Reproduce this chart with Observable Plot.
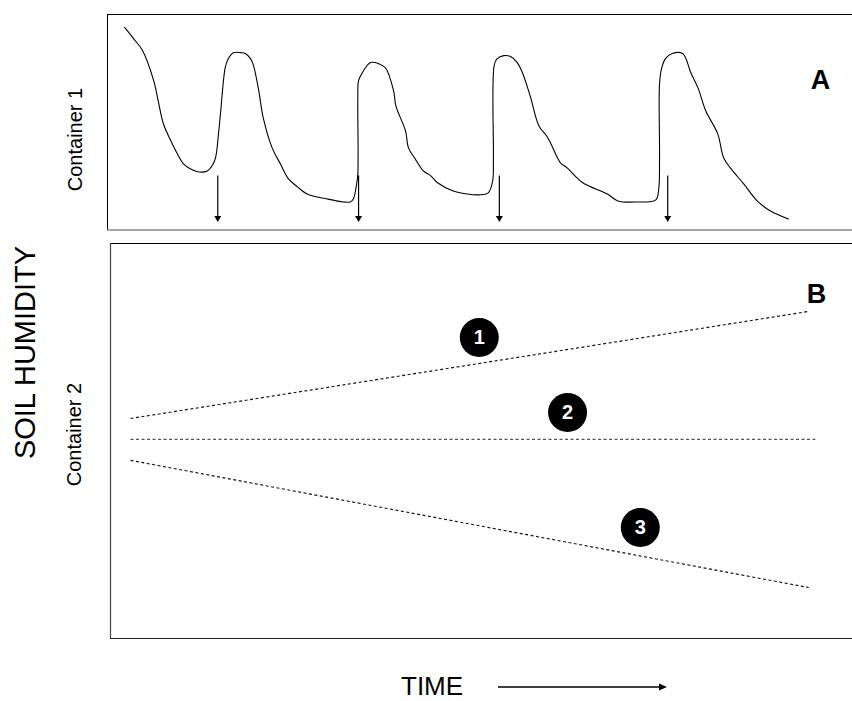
<!DOCTYPE html>
<html>
<head>
<meta charset="utf-8">
<script src="https://cdn.jsdelivr.net/npm/d3@7"></script>
<script src="https://cdn.jsdelivr.net/npm/@observablehq/plot@0.6"></script>
<style>
  body { margin: 0; background: #fff; }
  #wrap { position: relative; width: 852px; height: 701px; overflow: hidden; background: #fff;
          font-family: "Liberation Sans", Arial, sans-serif; }
  #wrap > svg, #wrap > div { position: absolute; left: 0; }
</style>
</head>
<body>
<div id="wrap"></div>
<script>
// ---- Panel A: Container 1, soil humidity over time (relative units) ----
const timeA = [2.3,3.5,4.7,6.2,6.8,7.5,8.5,9.3,10.2,11.1,
  12.1,13.4,14.1,14.5,14.9,15.2,15.8,16.2,16.9,17.9,
  18.5,19.2,19.6,20.3,20.9,22.1,23.2,24.3,25.5,26.8,
  29.5,31.7,32.6,33.0,33.4,33.6,33.6,33.7,34.2,35.3,
  36.4,37.3,38.4,38.7,40.0,40.4,41.3,42.4,43.4,44.3,
  46.4,48.3,49.8,51.1,51.7,51.8,51.9,52.3,53.2,54.1,
  55.0,55.7,56.8,57.9,59.1,60.4,60.8,61.7,63.8,67.1,
  68.5,71.1,73.6,74.0,74.1,74.1,74.4,74.9,75.8,77.2,
  78.3,79.3,80.3,81.9,82.7,83.6,85.4,87.2,89.0,91.4];
const humA = [94.0,88.8,83.3,69.3,60.0,49.3,41.4,35.8,30.7,28.4,
  27.0,27.4,30.2,33.5,44.7,55.3,75.3,79.5,82.3,82.3,
  81.9,79.5,76.3,64.7,52.1,38.1,30.7,23.7,20.0,16.7,
  14.4,13.0,13.0,14.4,20.5,26.0,60.9,69.3,73.0,77.7,
  77.2,75.3,64.7,57.7,46.0,38.1,33.0,27.4,25.1,21.9,
  18.1,16.7,16.3,17.2,22.8,33.5,76.3,79.5,80.9,80.5,
  77.7,73.0,61.4,48.4,42.8,33.5,31.2,28.8,21.9,16.7,
  13.5,13.0,14.0,19.5,33.5,67.9,75.3,79.5,81.9,81.9,
  73.0,65.6,55.3,44.7,33.5,28.8,21.4,13.5,8.8,5.1];
// watering events (arrows)
const wateringTimes = [14.8, 33.7, 52.6, 75.2];
const wateringTop = 25.1;
const wateringTip = 5.6;

// ---- Panel B: Container 2, three trend scenarios ----
const trendIds = ["1", "2", "3"];
const trendStartT = [2.7, 2.7, 2.7];
const trendEndT = [94.1, 95.0, 94.1];
const trendStartH = [55.7, 50.4, 45.1];
const trendEndH = [82.8, 50.4, 12.9];
const badgeT = [49.7, 61.6, 71.4];
const badgeH = [76.2, 57.2, 28.1];

const FONT = "Liberation Sans, Arial, sans-serif";
const wrap = document.getElementById("wrap");

const seriesA = timeA.map((t, i) => ({t, h: humA[i]}));
const water = wateringTimes.map(t => ({t, top: wateringTop, tip: wateringTip}));

const plotA = Plot.plot({
  width: 852, height: 232,
  marginLeft: 107, marginRight: 0, marginTop: 14, marginBottom: 2.5,
  x: {domain: [0, 100], axis: null},
  y: {domain: [0, 100], axis: null},
  style: {fontFamily: FONT, background: "transparent"},
  marks: [
    Plot.ruleY([100], {stroke: "#000", strokeWidth: 1}),
    Plot.ruleY([0], {stroke: "#888", strokeWidth: 1.5}),
    Plot.ruleX([0], {stroke: "#000", strokeWidth: 1}),
    Plot.line(seriesA, {x: "t", y: "h", curve: "catmull-rom", stroke: "#000", strokeWidth: 1.1}),
    Plot.ruleX(water, {x: "t", y1: "top", y2: "tip", stroke: "#000", strokeWidth: 1.2}),
    Plot.dot(water, {x: "t", y: "tip", symbol: "triangle", rotate: 180, r: 2.6, fill: "#000", stroke: null}),
    Plot.text(["A"], {frameAnchor: "top-right", dx: -32, dy: 55, textAnchor: "middle",
      fontWeight: "bold", fontSize: 27, fill: "#000"})
  ]
});
plotA.style.top = "0px";
wrap.appendChild(plotA);

const trends = trendIds.map((id, i) => ({id, t1: trendStartT[i], t2: trendEndT[i], h1: trendStartH[i], h2: trendEndH[i]}));
const badges = trendIds.map((id, i) => ({id, t: badgeT[i], h: badgeH[i]}));

const plotB = Plot.plot({
  width: 852, height: 410,
  marginLeft: 110, marginRight: 0, marginTop: 11, marginBottom: 4,
  x: {domain: [0, 100], axis: null},
  y: {domain: [0, 100], axis: null},
  style: {fontFamily: FONT, background: "transparent"},
  marks: [
    Plot.ruleY([100], {stroke: "#000", strokeWidth: 1.2}),
    Plot.ruleY([0], {stroke: "#222", strokeWidth: 1.2}),
    Plot.ruleX([0], {stroke: "#444", strokeWidth: 1.2}),
    Plot.link(trends, {x1: "t1", y1: "h1", x2: "t2", y2: "h2",
      stroke: d => d.id === "2" ? "#555" : "#111", strokeWidth: 1.15, strokeDasharray: "3,2.5"}),
    Plot.dot(badges, {x: "t", y: "h", r: 19.5, fill: "#000", stroke: null}),
    Plot.text(badges, {x: "t", y: "h", text: "id", fill: "#fff", fontWeight: "bold", fontSize: 20}),
    Plot.text(["B"], {frameAnchor: "top-right", dx: -36, dy: 40, textAnchor: "middle",
      fontWeight: "bold", fontSize: 27, fill: "#000"})
  ]
});
plotB.style.top = "232px";
wrap.appendChild(plotB);

// ---- annotation overlay: axis titles ----
const svg = d3.select(wrap).append("svg")
  .attr("width", 852).attr("height", 701)
  .style("position", "absolute").style("top", "0px").style("left", "0px")
  .style("pointer-events", "none")
  .attr("font-family", FONT);

svg.append("text").attr("transform", "translate(35,352.5) rotate(-90)")
  .attr("text-anchor", "middle").attr("font-size", 29).attr("fill", "#000").text("SOIL HUMIDITY");
svg.append("text").attr("transform", "translate(81.5,139.5) rotate(-90)")
  .attr("text-anchor", "middle").attr("font-size", 20).attr("fill", "#000").text("Container 1");
svg.append("text").attr("transform", "translate(80.5,434.5) rotate(-90)")
  .attr("text-anchor", "middle").attr("font-size", 20).attr("fill", "#000").text("Container 2");
svg.append("text").attr("x", 401).attr("y", 695)
  .attr("font-size", 26).attr("fill", "#000").text("TIME");
svg.append("line").attr("x1", 498).attr("x2", 661).attr("y1", 687).attr("y2", 687)
  .attr("stroke", "#000").attr("stroke-width", 1.3);
svg.append("path").attr("d", "M667,687 L659,683.5 L659,690.5 Z").attr("fill", "#000");
</script>
</body>
</html>
